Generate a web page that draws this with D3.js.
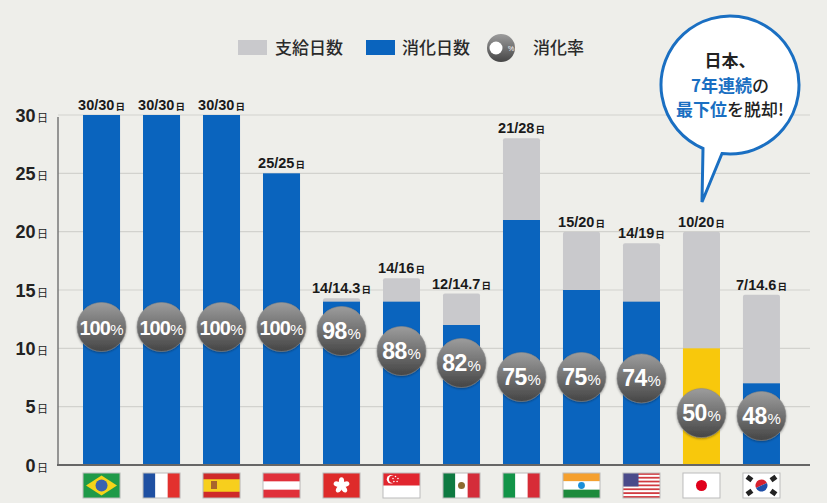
<!DOCTYPE html>
<html>
<head>
<meta charset="utf-8">
<script src="https://cdn.jsdelivr.net/npm/d3@7"></script>
<style>
  body { margin: 0; background: #eeeeea; }
  svg { display: block; }
</style>
</head>
<body>
<svg id="chart"></svg>
<script>
// data
const countries = ["ブラジル", "フランス", "スペイン", "オーストリア", "香港", "シンガポール", "メキシコ", "イタリア", "インド", "アメリカ", "日本", "韓国"];
const flagCodes = ["br", "fr", "es", "at", "hk", "sg", "mx", "it", "in", "us", "jp", "kr"];
const givenDays = [30, 30, 30, 25, 14.3, 16, 14.7, 28, 20, 19, 20, 14.6];
const usedDays = [30, 30, 30, 25, 14, 14, 12, 21, 15, 14, 10, 7];
const useRates = [100, 100, 100, 100, 98, 88, 82, 75, 75, 74, 50, 48];
const yTicks = [0, 5, 10, 15, 20, 25, 30];
const legendLabels = ["支給日数", "消化日数", "消化率"];
const highlight = "日本";

const W = 827, H = 503;
const blue = "#0a64be", gray = "#c9c9cc", yellow = "#f8c80c", bubbleBlue = "#1a6fc2";
const numFont = "'Liberation Sans Narrow', 'Arial Narrow', 'Liberation Sans', sans-serif";
const jpFont = "'Noto Sans CJK JP', sans-serif";

const data = countries.map((c, i) => ({
    name: c, flag: flagCodes[i], given: givenDays[i], used: usedDays[i], rate: useRates[i]
}));

const svg = d3.select("#chart").attr("width", W).attr("height", H);

const defs = svg.append("defs");
const grad = defs.append("linearGradient").attr("id", "ball").attr("x1", 0).attr("y1", 0).attr("x2", 0).attr("y2", 1);
grad.append("stop").attr("offset", "0%").attr("stop-color", "#9c9c9c");
grad.append("stop").attr("offset", "55%").attr("stop-color", "#6d6d6d");
grad.append("stop").attr("offset", "100%").attr("stop-color", "#454545");
const shadow = defs.append("filter").attr("id", "shadow").attr("x", "-30%").attr("y", "-30%").attr("width", "160%").attr("height", "160%");
shadow.append("feDropShadow").attr("dx", 0).attr("dy", 1).attr("stdDeviation", 1.2).attr("flood-opacity", 0.35);

svg.append("rect").attr("width", W).attr("height", H).attr("fill", "#eeeeea");

// scales
const x = d3.scaleBand().domain(countries).range([58, 805]).paddingInner(0.383).paddingOuter(0.417);
const y = d3.scaleLinear().domain([0, 30]).range([465, 115]);
const ballY = d3.scaleLinear().domain([100, 75, 48]).range([327, 377, 416]);

// gridlines
svg.append("g").selectAll("line").data(yTicks.filter(d => d > 0)).enter().append("line")
    .attr("x1", 58).attr("x2", 810)
    .attr("y1", d => y(d)).attr("y2", d => y(d))
    .attr("stroke", "#d2d2ce").attr("stroke-width", 1.2);

// y axis labels
const yAxis = d3.axisLeft(y).tickValues(yTicks).tickSize(0).tickPadding(0).tickFormat(d => d);
const axisG = svg.append("g").attr("transform", "translate(36,0)").call(yAxis);
axisG.select(".domain").remove();
axisG.selectAll("text")
    .attr("font-family", numFont).attr("font-weight", "bold").attr("font-size", 18)
    .attr("fill", "#222").attr("dy", "0.35em")
    .append("tspan").attr("font-family", jpFont).attr("font-weight", "normal")
    .attr("font-size", 11).attr("dx", 1.5).text("日");
axisG.selectAll("text").attr("text-anchor", "end").attr("x", 12);

// bars
const bars = svg.append("g").selectAll("g").data(data).enter().append("g");
bars.append("rect")
    .attr("x", d => x(d.name)).attr("width", x.bandwidth())
    .attr("y", d => y(d.given)).attr("height", d => y(0) - y(d.given))
    .attr("rx", 2).attr("fill", gray);
bars.append("rect")
    .attr("x", d => x(d.name)).attr("width", x.bandwidth())
    .attr("y", d => y(d.used)).attr("height", d => y(0) - y(d.used))
    .attr("fill", d => d.name === highlight ? yellow : blue);

// axis lines
svg.append("line").attr("x1", 58).attr("x2", 58).attr("y1", y(30) + 2).attr("y2", y(0))
    .attr("stroke", "#777").attr("stroke-width", 1.5);
svg.append("line").attr("x1", 57).attr("x2", 810).attr("y1", y(0)).attr("y2", y(0))
    .attr("stroke", "#666").attr("stroke-width", 2.2);

// value labels
const vl = svg.append("g").selectAll("text").data(data).enter().append("text")
    .attr("x", d => x(d.name) + x.bandwidth() / 2)
    .attr("y", d => y(d.given) - 5)
    .attr("text-anchor", "middle")
    .attr("font-family", numFont).attr("font-weight", "bold").attr("font-size", 14.5)
    .attr("fill", "#1a1a1a");
vl.append("tspan").text(d => `${d.used}/${d.given}`);
vl.append("tspan").attr("font-family", jpFont).attr("font-size", 9.5).attr("dx", 1).text("日");

// rate balls
const balls = svg.append("g").selectAll("g").data(data).enter().append("g")
    .attr("transform", d => `translate(${x(d.name) + x.bandwidth() / 2},${ballY(d.rate)})`);
balls.append("circle").attr("r", 24.5).attr("fill", "url(#ball)").attr("filter", "url(#shadow)")
    .attr("stroke", "#8a8a8a").attr("stroke-width", 0.6);
const bt = balls.append("text").attr("text-anchor", "middle").attr("y", 8)
    .attr("font-family", "'Liberation Sans', Arial, sans-serif").attr("font-weight", "bold")
    .attr("fill", "#fff");
bt.append("tspan").attr("font-size", d => d.rate >= 100 ? 20 : 23)
    .attr("letter-spacing", d => d.rate >= 100 ? -1 : -0.4).text(d => d.rate);
bt.append("tspan").attr("font-size", 15).attr("font-weight", "normal").attr("dx", 0.5).text("%");

// flags
const fw = x.bandwidth(), fh = 25, fy = 473;
const flags = svg.append("g").selectAll("g").data(data).enter().append("g")
    .attr("transform", d => `translate(${x(d.name)},${fy})`);
flags.each(function (d) {
    const g = d3.select(this);
    const r = (x0, y0, w, h, c) => g.append("rect").attr("x", x0).attr("y", y0).attr("width", w).attr("height", h).attr("fill", c);
    const c = (cx, cy, rr, col) => g.append("circle").attr("cx", cx).attr("cy", cy).attr("r", rr).attr("fill", col);
    const cx = fw / 2, cy = fh / 2;
    switch (d.flag) {
        case "br":
            r(0, 0, fw, fh, "#1f9a48");
            g.append("polygon").attr("points", `3,${cy} ${cx},2.5 ${fw - 3},${cy} ${cx},${fh - 2.5}`).attr("fill", "#f5d41a");
            c(cx, cy, 6, "#3a62b0");
            break;
        case "fr":
            r(0, 0, fw / 3, fh, "#1f50a2"); r(fw / 3, 0, fw / 3, fh, "#fff"); r(2 * fw / 3, 0, fw / 3, fh, "#e3312e");
            break;
        case "es":
            r(0, 0, fw, fh, "#cf2a2a"); r(0, fh / 4, fw, fh / 2, "#f7cf1d");
            r(8, 8, 6, 8, "#a8652c");
            break;
        case "at":
            r(0, 0, fw, fh, "#e0303a"); r(0, fh / 3, fw, fh / 3, "#fff");
            break;
        case "hk":
            r(0, 0, fw, fh, "#de2b2a");
            for (let k = 0; k < 5; k++) {
                g.append("ellipse").attr("cx", cx).attr("cy", cy - 4).attr("rx", 2.6).attr("ry", 4.2)
                    .attr("fill", "#fff").attr("transform", `rotate(${k * 72},${cx},${cy})`);
            }
            break;
        case "sg":
            r(0, 0, fw, fh, "#fff"); r(0, 0, fw, fh / 2, "#e1262f");
            c(8, 6.2, 4.2, "#fff"); c(9.8, 6.2, 3.8, "#e1262f");
            [[12, 3.5], [14.5, 5.5], [13.6, 8.5], [10.4, 8.5], [9.5, 5.5]].forEach(p => c(p[0] + 0.5, p[1], 0.8, "#fff"));
            break;
        case "mx":
            r(0, 0, fw / 3, fh, "#0e7a41"); r(fw / 3, 0, fw / 3, fh, "#fff"); r(2 * fw / 3, 0, fw / 3, fh, "#d42d3a");
            c(cx, cy, 3.5, "#8c6a2f");
            break;
        case "it":
            r(0, 0, fw / 3, fh, "#129448"); r(fw / 3, 0, fw / 3, fh, "#fff"); r(2 * fw / 3, 0, fw / 3, fh, "#d72c37");
            break;
        case "in":
            r(0, 0, fw, fh / 3, "#f5a02e"); r(0, fh / 3, fw, fh / 3, "#fff"); r(0, 2 * fh / 3, fw, fh / 3, "#1d8a3c");
            c(cx, cy, 3.4, "#1a8fd8");
            break;
        case "us":
            for (let k = 0; k < 13; k++) r(0, k * fh / 13, fw, fh / 13, k % 2 ? "#fff" : "#d23a40");
            r(0, 0, fw * 0.42, fh * 7 / 13, "#4a4a8a");
            break;
        case "jp":
            r(0, 0, fw, fh, "#fff"); c(cx, cy, 5.5, "#e0001b");
            break;
        case "kr":
            r(0, 0, fw, fh, "#fff");
            g.append("path").attr("d", `M${cx - 6},${cy} A6,6 0 0 1 ${cx + 6},${cy} Z`).attr("fill", "#d6202e")
                .attr("transform", `rotate(-25,${cx},${cy})`);
            g.append("path").attr("d", `M${cx - 6},${cy} A6,6 0 0 0 ${cx + 6},${cy} Z`).attr("fill", "#1f4fa8")
                .attr("transform", `rotate(-25,${cx},${cy})`);
            [[-12, -7, 35], [12, -7, -35], [-12, 7, -35], [12, 7, 35]].forEach(p => {
                g.append("rect").attr("x", cx + p[0] - 3).attr("y", cy + p[1] - 2.5).attr("width", 6).attr("height", 5)
                    .attr("fill", "#222").attr("transform", `rotate(${p[2]},${cx + p[0]},${cy + p[1]})`);
            });
            break;
    }
    g.append("rect").attr("width", fw).attr("height", fh).attr("fill", "none").attr("stroke", "#bbb").attr("stroke-width", 1);
});

// legend
const leg = svg.append("g").attr("font-family", jpFont).attr("font-size", 17).attr("font-weight", 500).attr("fill", "#2a2a2a");
leg.append("rect").attr("x", 238).attr("y", 40).attr("width", 29).attr("height", 15).attr("fill", gray);
leg.append("text").attr("x", 275).attr("y", 54).text(legendLabels[0]);
leg.append("rect").attr("x", 366).attr("y", 40).attr("width", 29).attr("height", 15).attr("fill", blue);
leg.append("text").attr("x", 402).attr("y", 54).text(legendLabels[1]);
leg.append("circle").attr("cx", 501).attr("cy", 48).attr("r", 14).attr("fill", "url(#ball)");
leg.append("circle").attr("cx", 496).attr("cy", 48).attr("r", 6.5).attr("fill", "#fff");
leg.append("text").attr("x", 508).attr("y", 51).attr("font-size", 7).attr("fill", "#fff")
    .attr("font-family", "'Liberation Sans', sans-serif").text("%");
leg.append("text").attr("x", 533).attr("y", 54).text(legendLabels[2]);

// callout bubble
const bcx = 730, bcy = 85, br = 69;
const ang = xx => Math.sqrt(br * br - (xx - bcx) * (xx - bcx));
svg.append("path")
    .attr("d", `M703,${bcy + ang(703)} A${br},${br} 0 1 1 722,${bcy + ang(722)} L702,202 Z`)
    .attr("fill", "#fff").attr("stroke", bubbleBlue).attr("stroke-width", 3).attr("stroke-linejoin", "miter");
const bub = svg.append("g").attr("font-family", jpFont).attr("font-weight", "bold").attr("font-size", 17)
    .attr("text-anchor", "middle").attr("fill", "#222");
bub.append("text").attr("x", bcx).attr("y", 67).text("日本、");
const l2 = bub.append("text").attr("x", bcx).attr("y", 91.5);
l2.append("tspan").attr("fill", bubbleBlue).text("7年連続");
l2.append("tspan").attr("font-weight", 500).text("の");
const l3 = bub.append("text").attr("x", bcx).attr("y", 116);
l3.append("tspan").attr("fill", bubbleBlue).text("最下位");
l3.append("tspan").attr("font-weight", 500).text("を脱却!");
</script>
</body>
</html>
